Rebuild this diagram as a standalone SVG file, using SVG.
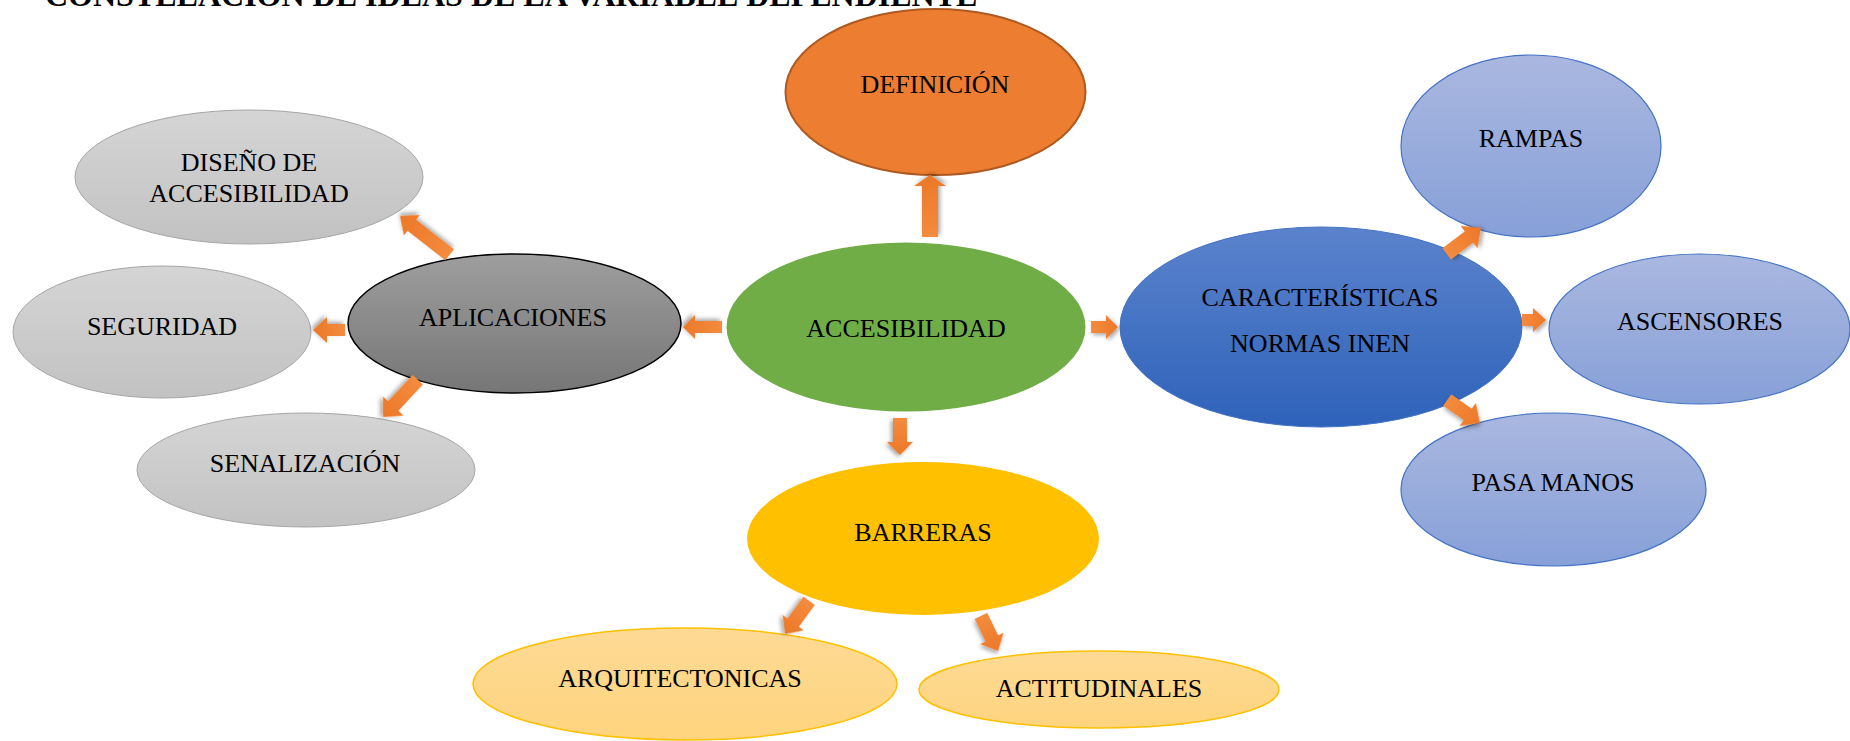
<svg xmlns="http://www.w3.org/2000/svg" width="1850" height="741" viewBox="0 0 1850 741">
<defs>
<linearGradient id="gGray" x1="0" y1="0" x2="0" y2="1"><stop offset="0" stop-color="#D5D5D5"/><stop offset="1" stop-color="#C2C2C2"/></linearGradient>
<linearGradient id="gDark" x1="0" y1="0" x2="0" y2="1"><stop offset="0" stop-color="#9E9E9E"/><stop offset="1" stop-color="#767676"/></linearGradient>
<linearGradient id="gBlue" x1="0" y1="0" x2="0" y2="1"><stop offset="0" stop-color="#5B83CC"/><stop offset="1" stop-color="#2E62BA"/></linearGradient>
<linearGradient id="gLBlue" x1="0" y1="0" x2="0" y2="1"><stop offset="0" stop-color="#AAB8E0"/><stop offset="1" stop-color="#87A0D8"/></linearGradient>
<linearGradient id="gLYel" x1="0" y1="0" x2="0" y2="1"><stop offset="0" stop-color="#FDDA95"/><stop offset="1" stop-color="#FFD47E"/></linearGradient>
<linearGradient id="gArr" x1="0" y1="0" x2="1" y2="0"><stop offset="0" stop-color="#F48B3E"/><stop offset="1" stop-color="#EC7828"/></linearGradient>
<filter id="sh" x="-50%" y="-50%" width="200%" height="200%"><feDropShadow dx="2" dy="2" stdDeviation="2" flood-color="#000" flood-opacity="0.35"/></filter>
</defs>
<style>
text{font-family:"Liberation Serif","Times New Roman",serif;font-size:26px;fill:#000;text-anchor:middle}
.title{font-size:32px;font-weight:bold;text-anchor:start}
.gray{fill:url(#gGray);stroke:#A6A6A6;stroke-width:1}
.lblue{fill:url(#gLBlue);stroke:#4472C4;stroke-width:1.2}
.lyel{fill:url(#gLYel);stroke:#FFC000;stroke-width:1.5}
.arr{fill:url(#gArr);filter:url(#sh)}
</style>
<rect width="1850" height="741" fill="#fff"/>
<text class="title" x="45" y="6">CONSTELACIÓN DE IDEAS DE LA VARIABLE DEPENDIENTE</text>

<g id="definicion"><ellipse cx="935.5" cy="92" rx="150" ry="83" fill="#ED7D31" stroke="#AE5A21" stroke-width="2"/><text x="935" y="93">DEFINICIÓN</text></g>
<g id="accesibilidad"><ellipse cx="906" cy="327" rx="181" ry="86" fill="#70AD47" stroke="#fff" stroke-width="3"/><text x="906" y="337">ACCESIBILIDAD</text></g>
<g id="aplicaciones"><ellipse cx="514.5" cy="323.5" rx="166.5" ry="69.5" fill="url(#gDark)" stroke="#000" stroke-width="1.5"/><text x="513" y="326">APLICACIONES</text></g>
<g id="diseno"><ellipse cx="249" cy="177" rx="174" ry="67" class="gray"/><text x="249" y="171">DISEÑO DE</text><text x="249" y="202">ACCESIBILIDAD</text></g>
<g id="seguridad"><ellipse cx="162" cy="332" rx="149" ry="66" class="gray"/><text x="162" y="335">SEGURIDAD</text></g>
<g id="senalizacion"><ellipse cx="306" cy="470" rx="169" ry="57" class="gray"/><text x="305" y="472">SENALIZACIÓN</text></g>
<g id="caracteristicas"><ellipse cx="1321" cy="327" rx="201" ry="100" fill="url(#gBlue)" stroke="#4472C4" stroke-width="1"/><text x="1320" y="306">CARACTERÍSTICAS</text><text x="1320" y="352">NORMAS INEN</text></g>
<g id="rampas"><ellipse cx="1531" cy="146" rx="130" ry="91" class="lblue"/><text x="1531" y="147">RAMPAS</text></g>
<g id="ascensores"><ellipse cx="1699.5" cy="329" rx="150.5" ry="75" class="lblue"/><text x="1700" y="330">ASCENSORES</text></g>
<g id="pasamanos"><ellipse cx="1553.5" cy="489.5" rx="152.5" ry="76.5" class="lblue"/><text x="1553" y="491">PASA MANOS</text></g>
<g id="barreras"><ellipse cx="923" cy="538.5" rx="177" ry="77.5" fill="#FFC000" stroke="#fff" stroke-width="2"/><text x="923" y="541">BARRERAS</text></g>
<g id="arquitectonicas"><ellipse cx="685" cy="684" rx="212" ry="56" class="lyel"/><text x="680" y="687">ARQUITECTONICAS</text></g>
<g id="actitudinales"><ellipse cx="1099" cy="689.5" rx="180" ry="38.5" class="lyel"/><text x="1099" y="697">ACTITUDINALES</text></g>

<g id="connectors">
<path class="arr" transform="translate(930,175) rotate(-90)" d="M-62,-8L-11,-8L-11,-16L0,0L-11,16L-11,8L-62,8Z"/>
<path class="arr" transform="translate(900,455) rotate(90)" d="M-37,-7L-13,-7L-13,-13L0,0L-13,13L-13,7L-37,7Z"/>
<path class="arr" transform="translate(683,327) rotate(180)" d="M-39,-6L-12,-6L-12,-12L0,0L-12,12L-12,6L-39,6Z"/>
<path class="arr" transform="translate(1118,327)" d="M-27,-6L-12,-6L-12,-12L0,0L-12,12L-12,6L-27,6Z"/>
<path class="arr" transform="translate(1546,320)" d="M-24,-6L-13,-6L-13,-12L0,0L-13,12L-13,6L-24,6Z"/>
<path class="arr" transform="translate(1481,228) rotate(-37)" d="M-43,-7L-15,-7L-15,-14L0,0L-15,14L-15,7L-43,7Z"/>
<path class="arr" transform="translate(1480,423) rotate(35)" d="M-40,-7L-15,-7L-15,-14L0,0L-15,14L-15,7L-40,7Z"/>
<path class="arr" transform="translate(313,330) rotate(180)" d="M-32,-6L-14,-6L-14,-13L0,0L-14,13L-14,6L-32,6Z"/>
<path class="arr" transform="translate(400,216) rotate(-142)" d="M-63,-7L-15,-7L-15,-13L0,0L-15,13L-15,7L-63,7Z"/>
<path class="arr" transform="translate(383,417) rotate(133)" d="M-51,-7L-15,-7L-15,-14L0,0L-15,14L-15,7L-51,7Z"/>
<path class="arr" transform="translate(785,634) rotate(126)" d="M-41,-7L-14,-7L-14,-13L0,0L-14,13L-14,7L-41,7Z"/>
<path class="arr" transform="translate(998,651) rotate(64)" d="M-39,-7L-14,-7L-14,-13L0,0L-14,13L-14,7L-39,7Z"/>
</g>
</svg>
